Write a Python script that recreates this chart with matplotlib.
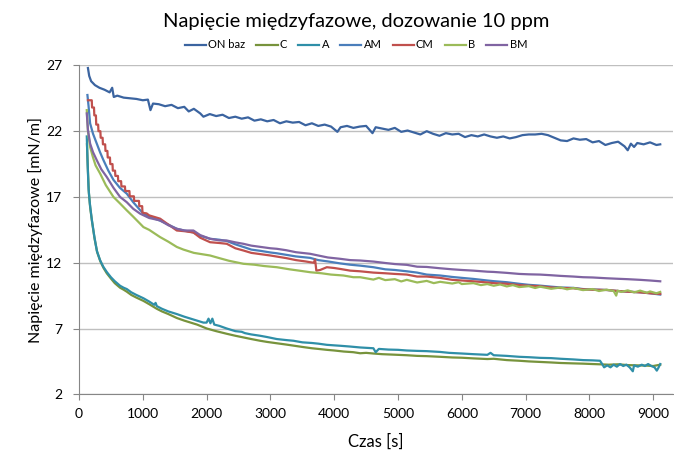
import matplotlib
matplotlib.use('Agg')
import matplotlib.pyplot as plt

plt.rcParams['font.family'] = ['Lato', 'DejaVu Sans']

# ON baz
t_on = [140, 160, 190, 250, 320, 400, 480, 520, 545, 600, 700, 800, 900, 1000, 1080, 1120, 1160,
        1250, 1350, 1450, 1550, 1650, 1720, 1800, 1900, 1950, 2050, 2150, 2250, 2350, 2450, 2550,
        2650, 2750, 2850, 2950, 3050, 3150, 3250, 3350, 3450, 3550, 3650, 3750, 3850, 3950, 4050,
        4100, 4200, 4300, 4400, 4500, 4600, 4650, 4750, 4850, 4950, 5050, 5150, 5250, 5350, 5450,
        5550, 5650, 5750, 5850, 5950, 6050, 6150, 6250, 6350, 6450, 6550, 6650, 6750, 6850, 6950,
        7050, 7150, 7250, 7350, 7450, 7550, 7650, 7750, 7850, 7950, 8050, 8150, 8250, 8350, 8450,
        8550, 8600, 8650, 8700, 8750, 8850, 8950, 9050, 9110]
v_on = [26.8, 26.2, 25.8, 25.5, 25.3, 25.15, 24.95, 25.3, 24.6, 24.7, 24.55, 24.5, 24.45, 24.35,
        24.4, 23.6, 24.1, 24.05, 23.9, 24.0, 23.75, 23.85, 23.5, 23.7, 23.35, 23.1, 23.3, 23.15,
        23.25, 23.0, 23.1, 22.95, 23.05, 22.8, 22.9, 22.75, 22.85, 22.6, 22.75, 22.65, 22.7, 22.45,
        22.6, 22.4, 22.5, 22.35, 21.95, 22.3, 22.4, 22.25, 22.35, 22.4, 21.85, 22.3, 22.2, 22.1,
        22.25, 21.95, 22.05, 21.9, 21.75, 22.0, 21.8, 21.65, 21.85, 21.75, 21.8, 21.55, 21.7, 21.6,
        21.75, 21.6, 21.5, 21.6, 21.45, 21.55, 21.7, 21.75, 21.75, 21.8, 21.7, 21.5, 21.3, 21.25,
        21.45, 21.35, 21.4, 21.15, 21.25, 20.95, 21.1, 21.2, 20.85, 20.55, 21.05, 20.8, 21.1, 21.0,
        21.15, 20.95, 21.0]

# C
t_c = [125, 140, 155, 175, 205, 245, 285, 335, 385, 435, 500, 560, 644, 700, 749, 820, 900, 1010,
       1100, 1219, 1300, 1400, 1533, 1650, 1750, 1850, 2003, 2150, 2316, 2450, 2600, 2700, 2838,
       2950, 3100, 3250, 3361, 3500, 3650, 3750, 3884, 4000, 4150, 4300, 4406, 4500, 4614, 4750,
       4900, 5138, 5300, 5450, 5660, 5850, 6000, 6182, 6400, 6500, 6705, 6900, 7050, 7227, 7400,
       7550, 7748, 7900, 8050, 8166, 8300, 8450, 8600, 8750, 8900, 9000, 9110]
v_c = [21.0, 19.0, 17.3, 16.2, 15.1, 13.8, 12.8, 12.1, 11.6, 11.2, 10.8, 10.45, 10.1, 9.95, 9.8,
       9.55, 9.35, 9.1, 8.85, 8.5, 8.3, 8.1, 7.8, 7.6, 7.45, 7.3, 7.0, 6.8, 6.6, 6.45, 6.3, 6.2,
       6.07, 5.98, 5.88, 5.78, 5.7, 5.6, 5.5, 5.45, 5.38, 5.33, 5.25, 5.2, 5.12, 5.15, 5.1, 5.05,
       5.02, 4.97, 4.92, 4.9, 4.85, 4.8, 4.78, 4.73, 4.68, 4.7, 4.6, 4.55, 4.5, 4.46, 4.42, 4.38,
       4.35, 4.33, 4.3, 4.28, 4.25, 4.28, 4.22, 4.2, 4.18, 4.15, 4.25]

# A
t_a = [122, 135, 150, 170, 200, 240, 280, 330, 380, 435, 500, 560, 644, 700, 749, 820, 900, 1010,
       1100, 1180, 1200, 1220, 1300, 1400, 1533, 1650, 1750, 1850, 1950, 2000, 2030, 2060, 2090,
       2120, 2200, 2316, 2450, 2550, 2600, 2700, 2838, 2950, 3100, 3250, 3361, 3500, 3650, 3750,
       3884, 4000, 4092, 4250, 4406, 4614, 4650, 4700, 4850, 5000, 5138, 5300, 5450, 5660, 5800,
       6000, 6182, 6400, 6450, 6500, 6705, 6900, 7050, 7227, 7400, 7550, 7748, 7900, 8050, 8166,
       8200, 8230, 8280, 8330, 8380, 8430, 8480, 8530, 8580, 8630, 8680, 8700, 8760, 8820, 8870,
       8920, 8970, 9020, 9056, 9080, 9110]
v_a = [21.6, 19.5, 17.6, 16.5, 15.3, 14.0, 12.9, 12.2, 11.7, 11.3, 10.9, 10.6, 10.25, 10.1, 10.0,
       9.75, 9.55, 9.3, 9.05, 8.8, 8.95, 8.7, 8.5, 8.3, 8.1, 7.9, 7.75, 7.6, 7.45, 7.45, 7.75, 7.4,
       7.75, 7.3, 7.2, 7.0, 6.8, 6.75, 6.65, 6.55, 6.45, 6.35, 6.2, 6.12, 6.07, 5.95, 5.9, 5.85,
       5.76, 5.72, 5.69, 5.63, 5.56, 5.5, 5.2, 5.45, 5.4, 5.38, 5.33, 5.3, 5.28, 5.22, 5.15, 5.1,
       5.05, 5.0, 5.15, 4.97, 4.92, 4.85, 4.82, 4.77, 4.75, 4.7, 4.65, 4.6, 4.58, 4.55, 4.3, 4.05,
       4.2, 4.05, 4.25, 4.1, 4.3, 4.15, 4.25, 4.05, 3.75, 4.2, 4.1, 4.25, 4.15, 4.3, 4.15, 4.05,
       3.8, 4.0, 4.3]

# AM
t_am = [132, 150, 174, 220, 279, 330, 383, 460, 540, 640, 749, 850, 958, 1010, 1100, 1271, 1400,
        1533, 1650, 1793, 1900, 2055, 2200, 2316, 2450, 2577, 2700, 2850, 3000, 3100, 3250, 3400,
        3622, 3750, 3900, 4092, 4250, 4406, 4614, 4800, 4950, 5138, 5300, 5450, 5660, 5850, 6000,
        6182, 6400, 6500, 6705, 6900, 7050, 7227, 7400, 7550, 7748, 7900, 8050, 8270, 8450, 8600,
        8795, 8950, 9110]
v_am = [24.75, 23.9, 22.6, 21.8, 21.05, 20.4, 19.8, 19.0, 18.3, 17.7, 17.25, 16.6, 16.0, 15.75,
        15.5, 15.2, 14.9, 14.58, 14.45, 14.3, 14.05, 13.82, 13.75, 13.65, 13.4, 13.2, 13.0, 12.9,
        12.78, 12.72, 12.6, 12.48, 12.37, 12.2, 12.1, 11.95, 11.85, 11.78, 11.66, 11.5, 11.45,
        11.35, 11.25, 11.1, 11.03, 10.92, 10.85, 10.77, 10.65, 10.6, 10.52, 10.4, 10.32, 10.26,
        10.18, 10.12, 10.09, 10.0, 9.97, 9.93, 9.85, 9.8, 9.75, 9.68, 9.58]

# CM (stepwise at the start)
t_cm = [140, 200, 205, 235, 240, 265, 270, 300, 305, 335, 340, 370, 375, 410, 415, 445, 450, 485,
        490, 525, 530, 565, 570, 610, 615, 660, 665, 720, 725, 790, 795, 860, 865, 940, 945, 990,
        995, 1060, 1100, 1271, 1400, 1533, 1650, 1793, 1900, 2055, 2200, 2316, 2450, 2577, 2700,
        2850, 3000, 3100, 3250, 3400, 3550, 3622, 3680, 3700, 3720, 3780, 3884, 4000, 4092, 4250,
        4406, 4614, 4800, 4950, 5138, 5300, 5450, 5660, 5850, 6000, 6182, 6400, 6500, 6705, 6900,
        7050, 7227, 7400, 7550, 7748, 7900, 8050, 8270, 8450, 8600, 8795, 8950, 9110]
v_cm = [24.35, 24.35, 23.8, 23.8, 23.2, 23.2, 22.5, 22.5, 22.0, 22.0, 21.5, 21.5, 21.0, 21.0,
        20.5, 20.5, 20.0, 20.0, 19.5, 19.5, 19.0, 19.0, 18.6, 18.6, 18.2, 18.2, 17.8, 17.8, 17.45,
        17.45, 17.05, 17.05, 16.7, 16.7, 16.3, 16.3, 15.8, 15.75, 15.6, 15.35, 14.9, 14.45, 14.4,
        14.3, 13.9, 13.56, 13.5, 13.44, 13.1, 12.93, 12.75, 12.65, 12.55, 12.47, 12.35, 12.2, 12.1,
        12.04, 12.0, 12.25, 11.4, 11.45, 11.66, 11.6, 11.53, 11.4, 11.35, 11.25, 11.2, 11.15, 11.1,
        10.95, 10.95, 10.85, 10.7, 10.65, 10.59, 10.5, 10.45, 10.4, 10.3, 10.25, 10.21, 10.12,
        10.08, 10.06, 9.98, 9.95, 9.93, 9.85, 9.8, 9.75, 9.68, 9.63]

# B
t_b = [122, 140, 174, 220, 260, 331, 420, 540, 644, 749, 850, 1010, 1100, 1271, 1400, 1533, 1637,
       1800, 2055, 2200, 2350, 2577, 2750, 2900, 3100, 3300, 3450, 3622, 3800, 3950, 4144, 4300,
       4406, 4614, 4700, 4800, 4950, 5050, 5138, 5300, 5450, 5560, 5660, 5850, 5950, 6000, 6182,
       6300, 6400, 6500, 6600, 6705, 6800, 6900, 7050, 7150, 7227, 7400, 7550, 7650, 7748, 7900,
       8050, 8150, 8270, 8380, 8420, 8440, 8500, 8600, 8700, 8795, 8900, 8950, 9050, 9110]
v_b = [23.6, 22.0, 20.8, 20.0, 19.4, 18.78, 17.9, 17.0, 16.5, 15.98, 15.5, 14.71, 14.5, 13.95,
       13.6, 13.2, 13.0, 12.75, 12.55, 12.35, 12.15, 11.92, 11.85, 11.75, 11.66, 11.5, 11.4,
       11.28, 11.2, 11.1, 11.03, 10.9, 10.9, 10.72, 10.85, 10.68, 10.75, 10.58, 10.7, 10.5, 10.62,
       10.45, 10.55, 10.42, 10.52, 10.38, 10.45, 10.3, 10.38, 10.25, 10.35, 10.2, 10.3, 10.15,
       10.22, 10.08, 10.18, 10.02, 10.12, 9.98, 10.08, 9.92, 10.0, 9.85, 9.95, 9.85, 9.5, 9.88,
       9.78, 9.9, 9.75, 9.88, 9.72, 9.82, 9.68, 9.78]

# BM
t_bm = [122, 140, 174, 220, 279, 350, 435, 540, 644, 749, 850, 958, 1100, 1271, 1400, 1533, 1650,
        1793, 1900, 2055, 2200, 2316, 2450, 2577, 2700, 2850, 3000, 3100, 3250, 3400, 3622, 3750,
        3900, 4092, 4250, 4406, 4614, 4800, 4950, 5138, 5300, 5450, 5660, 5850, 6000, 6182, 6400,
        6500, 6705, 6900, 7050, 7227, 7400, 7550, 7748, 7900, 8050, 8270, 8450, 8600, 8795, 8950,
        9110]
v_bm = [23.35, 22.1, 21.06, 20.4, 19.79, 19.1, 18.52, 17.7, 17.0, 16.6, 16.1, 15.73, 15.4, 15.22,
        14.85, 14.58, 14.45, 14.45, 14.1, 13.82, 13.7, 13.69, 13.55, 13.44, 13.3, 13.2, 13.1,
        13.06, 12.95, 12.8, 12.68, 12.55, 12.4, 12.3, 12.2, 12.17, 12.09, 11.98, 11.9, 11.84, 11.7,
        11.68, 11.58, 11.5, 11.45, 11.4, 11.32, 11.3, 11.23, 11.15, 11.12, 11.1, 11.05, 11.0,
        10.95, 10.9, 10.88, 10.82, 10.78, 10.75, 10.7, 10.65, 10.59]

series = [
    ('ON baz', t_on, v_on, '#3B64A0'),
    ('C', t_c, v_c, '#77933C'),
    ('A', t_a, v_a, '#2F8FA8'),
    ('AM', t_am, v_am, '#4A7EBB'),
    ('CM', t_cm, v_cm, '#C0504D'),
    ('B', t_b, v_b, '#9BBB59'),
    ('BM', t_bm, v_bm, '#8064A2'),
]

fig = plt.figure(figsize=(6.74, 4.54), dpi=100)
ax = fig.add_axes([79 / 674, 1 - 394.3 / 454, (673 - 79) / 674, (394.3 - 65.4) / 454])

for name, t, v, col in series:
    ax.plot(t, v, color=col, lw=1.6, label=name, solid_joinstyle='round')

ax.set_xlim(0, 9310)
ax.set_ylim(2, 27)
ax.set_xticks(range(0, 9001, 1000))
ax.set_yticks([2, 7, 12, 17, 22, 27])
ax.yaxis.grid(True, color='#BFBFBF', lw=1)
ax.set_axisbelow(True)
for s in ['top', 'right']:
    ax.spines[s].set_visible(False)
for s in ['left', 'bottom']:
    ax.spines[s].set_color('#868686')
ax.tick_params(axis='both', colors='#868686', labelcolor='black', labelsize=10, length=4)
ax.tick_params(axis='x', pad=6)
ax.tick_params(axis='y', pad=8)

ax.set_xlabel('Czas [s]', fontsize=12, labelpad=10)
ax.set_ylabel('Napięcie międzyfazowe [mN/m]', fontsize=11.5, labelpad=2)
fig.text(356 / 674, 1 - 21 / 454, 'Napięcie międzyfazowe, dozowanie 10 ppm', fontsize=14.5,
         ha='center', va='center')
fig.legend(loc='center', bbox_to_anchor=(356 / 674, 1 - 45 / 454), ncol=7, frameon=False,
           fontsize=8, handlelength=1.9, handletextpad=0.2, columnspacing=1.0)

plt.savefig('out.png', dpi=100)
